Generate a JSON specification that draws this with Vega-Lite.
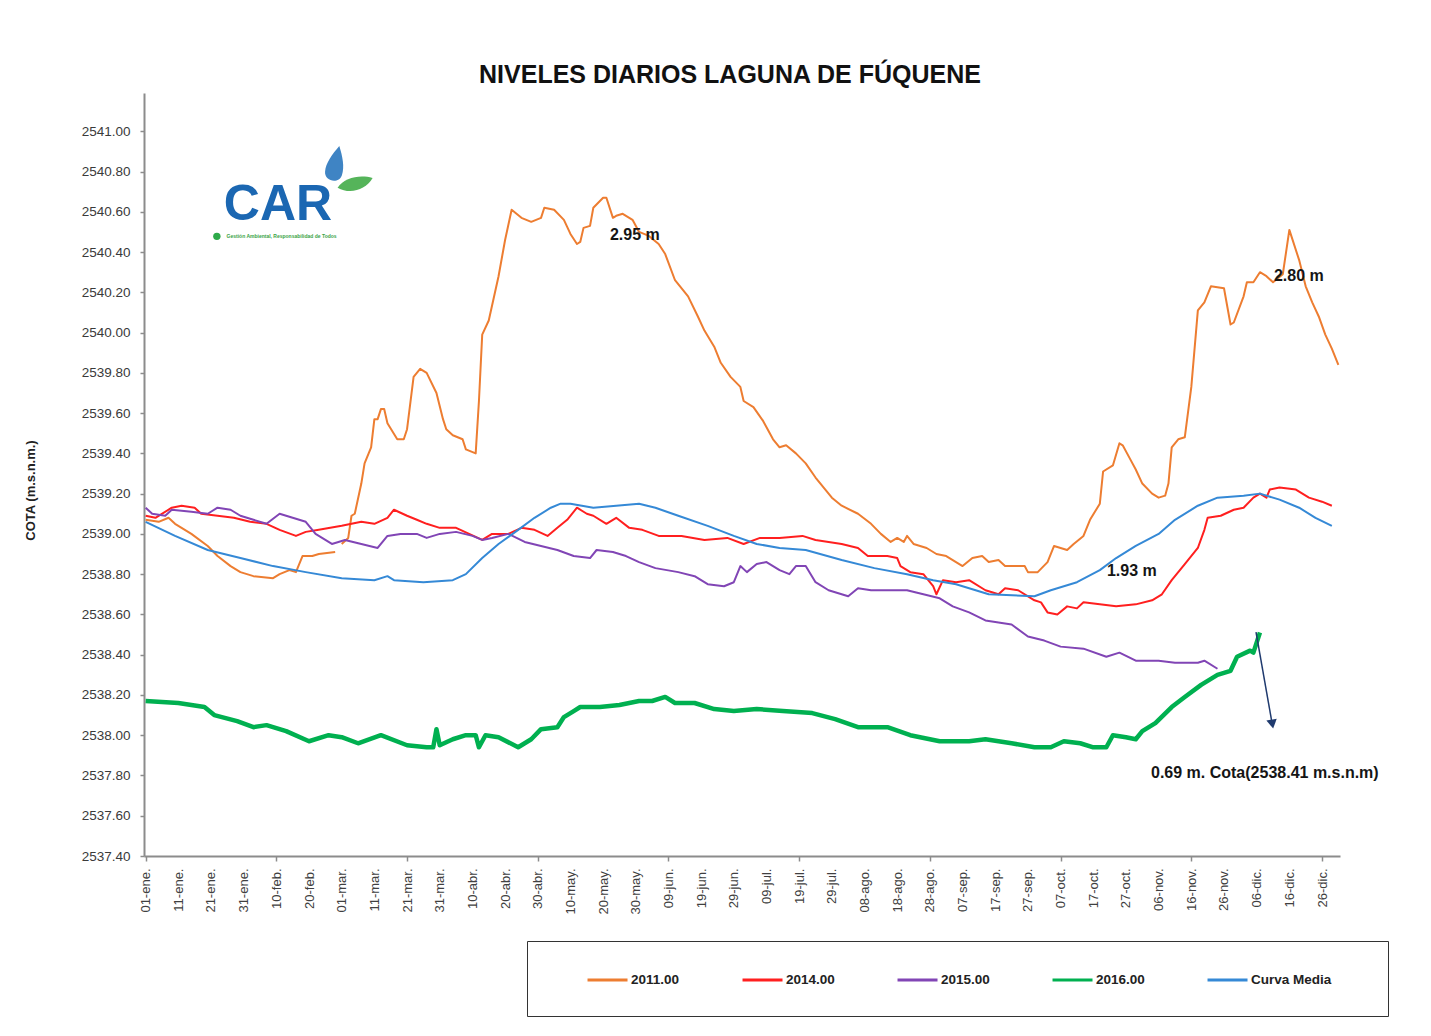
{
  "$schema": "https://vega.github.io/schema/vega-lite/v6.json",
  "width": 1196,
  "height": 763,
  "autosize": {"type": "none"},
  "padding": {"left": 144, "top": 93, "right": 91, "bottom": 180},
  "background": "#ffffff",
  "config": {"view": {"stroke": null}},
  "title": {"text": "NIVELES DIARIOS LAGUNA DE FÚQUENE", "font": "Liberation Sans", "fontSize": 25, "fontWeight": "bold", "color": "#111111", "anchor": "middle", "frame": "group", "dx": -12, "offset": 5},
  "datasets": {
    "niveles": [
      {"serie":"2011.00","tramo":"a","dia":1,"cota":2539.07},{"serie":"2011.00","tramo":"a","dia":5,"cota":2539.06},{"serie":"2011.00","tramo":"a","dia":8,"cota":2539.08},{"serie":"2011.00","tramo":"a","dia":10,"cota":2539.05},{"serie":"2011.00","tramo":"a","dia":15,"cota":2539.0},{"serie":"2011.00","tramo":"a","dia":20,"cota":2538.94},{"serie":"2011.00","tramo":"a","dia":23,"cota":2538.89},{"serie":"2011.00","tramo":"a","dia":27,"cota":2538.84},{"serie":"2011.00","tramo":"a","dia":30,"cota":2538.81},{"serie":"2011.00","tramo":"a","dia":34,"cota":2538.79},{"serie":"2011.00","tramo":"a","dia":40,"cota":2538.78},{"serie":"2011.00","tramo":"a","dia":42,"cota":2538.8},{"serie":"2011.00","tramo":"a","dia":45,"cota":2538.82},{"serie":"2011.00","tramo":"a","dia":47,"cota":2538.81},{"serie":"2011.00","tramo":"a","dia":49,"cota":2538.89},{"serie":"2011.00","tramo":"a","dia":52,"cota":2538.89},{"serie":"2011.00","tramo":"a","dia":54,"cota":2538.9},{"serie":"2011.00","tramo":"a","dia":59,"cota":2538.91},
      {"serie":"2011.00","tramo":"b","dia":61,"cota":2538.95},{"serie":"2011.00","tramo":"b","dia":63,"cota":2538.98},{"serie":"2011.00","tramo":"b","dia":64,"cota":2539.09},{"serie":"2011.00","tramo":"b","dia":65,"cota":2539.1},{"serie":"2011.00","tramo":"b","dia":67,"cota":2539.25},{"serie":"2011.00","tramo":"b","dia":68,"cota":2539.35},{"serie":"2011.00","tramo":"b","dia":70,"cota":2539.43},{"serie":"2011.00","tramo":"b","dia":71,"cota":2539.57},{"serie":"2011.00","tramo":"b","dia":72,"cota":2539.57},{"serie":"2011.00","tramo":"b","dia":73,"cota":2539.62},{"serie":"2011.00","tramo":"b","dia":74,"cota":2539.62},{"serie":"2011.00","tramo":"b","dia":75,"cota":2539.55},{"serie":"2011.00","tramo":"b","dia":78,"cota":2539.47},{"serie":"2011.00","tramo":"b","dia":80,"cota":2539.47},{"serie":"2011.00","tramo":"b","dia":81,"cota":2539.52},{"serie":"2011.00","tramo":"b","dia":83,"cota":2539.78},{"serie":"2011.00","tramo":"b","dia":85,"cota":2539.82},{"serie":"2011.00","tramo":"b","dia":87,"cota":2539.8},{"serie":"2011.00","tramo":"b","dia":90,"cota":2539.7},{"serie":"2011.00","tramo":"b","dia":92,"cota":2539.57},{"serie":"2011.00","tramo":"b","dia":93,"cota":2539.52},{"serie":"2011.00","tramo":"b","dia":95,"cota":2539.49},{"serie":"2011.00","tramo":"b","dia":98,"cota":2539.47},{"serie":"2011.00","tramo":"b","dia":99,"cota":2539.42},{"serie":"2011.00","tramo":"b","dia":102,"cota":2539.4},{"serie":"2011.00","tramo":"b","dia":103,"cota":2539.66},{"serie":"2011.00","tramo":"b","dia":104,"cota":2539.99},{"serie":"2011.00","tramo":"b","dia":106,"cota":2540.06},{"serie":"2011.00","tramo":"b","dia":109,"cota":2540.28},{"serie":"2011.00","tramo":"b","dia":111,"cota":2540.46},{"serie":"2011.00","tramo":"b","dia":113,"cota":2540.61},{"serie":"2011.00","tramo":"b","dia":116,"cota":2540.57},{"serie":"2011.00","tramo":"b","dia":119,"cota":2540.55},{"serie":"2011.00","tramo":"b","dia":122,"cota":2540.57},{"serie":"2011.00","tramo":"b","dia":123,"cota":2540.62},{"serie":"2011.00","tramo":"b","dia":126,"cota":2540.61},{"serie":"2011.00","tramo":"b","dia":129,"cota":2540.56},{"serie":"2011.00","tramo":"b","dia":131,"cota":2540.49},{"serie":"2011.00","tramo":"b","dia":133,"cota":2540.44},{"serie":"2011.00","tramo":"b","dia":134,"cota":2540.45},{"serie":"2011.00","tramo":"b","dia":135,"cota":2540.52},{"serie":"2011.00","tramo":"b","dia":137,"cota":2540.53},{"serie":"2011.00","tramo":"b","dia":138,"cota":2540.62},{"serie":"2011.00","tramo":"b","dia":141,"cota":2540.67},{"serie":"2011.00","tramo":"b","dia":142,"cota":2540.67},{"serie":"2011.00","tramo":"b","dia":144,"cota":2540.57},{"serie":"2011.00","tramo":"b","dia":145,"cota":2540.58},{"serie":"2011.00","tramo":"b","dia":147,"cota":2540.59},{"serie":"2011.00","tramo":"b","dia":150,"cota":2540.56},{"serie":"2011.00","tramo":"b","dia":152,"cota":2540.5},{"serie":"2011.00","tramo":"b","dia":155,"cota":2540.48},{"serie":"2011.00","tramo":"b","dia":158,"cota":2540.44},{"serie":"2011.00","tramo":"b","dia":160,"cota":2540.39},{"serie":"2011.00","tramo":"b","dia":163,"cota":2540.26},{"serie":"2011.00","tramo":"b","dia":167,"cota":2540.18},{"serie":"2011.00","tramo":"b","dia":170,"cota":2540.08},{"serie":"2011.00","tramo":"b","dia":172,"cota":2540.01},{"serie":"2011.00","tramo":"b","dia":175,"cota":2539.93},{"serie":"2011.00","tramo":"b","dia":177,"cota":2539.85},{"serie":"2011.00","tramo":"b","dia":180,"cota":2539.78},{"serie":"2011.00","tramo":"b","dia":183,"cota":2539.73},{"serie":"2011.00","tramo":"b","dia":184,"cota":2539.66},{"serie":"2011.00","tramo":"b","dia":187,"cota":2539.63},{"serie":"2011.00","tramo":"b","dia":190,"cota":2539.56},{"serie":"2011.00","tramo":"b","dia":193,"cota":2539.47},{"serie":"2011.00","tramo":"b","dia":195,"cota":2539.43},{"serie":"2011.00","tramo":"b","dia":197,"cota":2539.44},{"serie":"2011.00","tramo":"b","dia":200,"cota":2539.4},{"serie":"2011.00","tramo":"b","dia":203,"cota":2539.35},{"serie":"2011.00","tramo":"b","dia":206,"cota":2539.28},{"serie":"2011.00","tramo":"b","dia":209,"cota":2539.22},{"serie":"2011.00","tramo":"b","dia":211,"cota":2539.18},{"serie":"2011.00","tramo":"b","dia":214,"cota":2539.14},{"serie":"2011.00","tramo":"b","dia":219,"cota":2539.1},{"serie":"2011.00","tramo":"b","dia":223,"cota":2539.05},{"serie":"2011.00","tramo":"b","dia":226,"cota":2539.0},{"serie":"2011.00","tramo":"b","dia":229,"cota":2538.96},{"serie":"2011.00","tramo":"b","dia":231,"cota":2538.98},{"serie":"2011.00","tramo":"b","dia":233,"cota":2538.96},{"serie":"2011.00","tramo":"b","dia":234,"cota":2538.99},{"serie":"2011.00","tramo":"b","dia":236,"cota":2538.95},{"serie":"2011.00","tramo":"b","dia":240,"cota":2538.93},{"serie":"2011.00","tramo":"b","dia":243,"cota":2538.9},{"serie":"2011.00","tramo":"b","dia":246,"cota":2538.89},{"serie":"2011.00","tramo":"b","dia":251,"cota":2538.84},{"serie":"2011.00","tramo":"b","dia":254,"cota":2538.88},{"serie":"2011.00","tramo":"b","dia":257,"cota":2538.89},{"serie":"2011.00","tramo":"b","dia":259,"cota":2538.86},{"serie":"2011.00","tramo":"b","dia":262,"cota":2538.87},{"serie":"2011.00","tramo":"b","dia":264,"cota":2538.84},{"serie":"2011.00","tramo":"b","dia":270,"cota":2538.84},{"serie":"2011.00","tramo":"b","dia":271,"cota":2538.81},{"serie":"2011.00","tramo":"b","dia":274,"cota":2538.81},{"serie":"2011.00","tramo":"b","dia":277,"cota":2538.86},{"serie":"2011.00","tramo":"b","dia":279,"cota":2538.94},{"serie":"2011.00","tramo":"b","dia":283,"cota":2538.92},{"serie":"2011.00","tramo":"b","dia":285,"cota":2538.95},{"serie":"2011.00","tramo":"b","dia":288,"cota":2538.99},{"serie":"2011.00","tramo":"b","dia":290,"cota":2539.07},{"serie":"2011.00","tramo":"b","dia":293,"cota":2539.15},{"serie":"2011.00","tramo":"b","dia":294,"cota":2539.31},{"serie":"2011.00","tramo":"b","dia":297,"cota":2539.34},{"serie":"2011.00","tramo":"b","dia":299,"cota":2539.45},{"serie":"2011.00","tramo":"b","dia":300,"cota":2539.44},{"serie":"2011.00","tramo":"b","dia":302,"cota":2539.38},{"serie":"2011.00","tramo":"b","dia":304,"cota":2539.32},{"serie":"2011.00","tramo":"b","dia":306,"cota":2539.25},{"serie":"2011.00","tramo":"b","dia":309,"cota":2539.2},{"serie":"2011.00","tramo":"b","dia":311,"cota":2539.18},{"serie":"2011.00","tramo":"b","dia":313,"cota":2539.19},{"serie":"2011.00","tramo":"b","dia":314,"cota":2539.25},{"serie":"2011.00","tramo":"b","dia":315,"cota":2539.43},{"serie":"2011.00","tramo":"b","dia":317,"cota":2539.47},{"serie":"2011.00","tramo":"b","dia":319,"cota":2539.48},{"serie":"2011.00","tramo":"b","dia":321,"cota":2539.73},{"serie":"2011.00","tramo":"b","dia":323,"cota":2540.11},{"serie":"2011.00","tramo":"b","dia":325,"cota":2540.15},{"serie":"2011.00","tramo":"b","dia":327,"cota":2540.23},{"serie":"2011.00","tramo":"b","dia":331,"cota":2540.22},{"serie":"2011.00","tramo":"b","dia":333,"cota":2540.04},{"serie":"2011.00","tramo":"b","dia":334,"cota":2540.05},{"serie":"2011.00","tramo":"b","dia":337,"cota":2540.18},{"serie":"2011.00","tramo":"b","dia":338,"cota":2540.25},{"serie":"2011.00","tramo":"b","dia":340,"cota":2540.25},{"serie":"2011.00","tramo":"b","dia":342,"cota":2540.3},{"serie":"2011.00","tramo":"b","dia":344,"cota":2540.28},{"serie":"2011.00","tramo":"b","dia":346,"cota":2540.25},{"serie":"2011.00","tramo":"b","dia":349,"cota":2540.29},{"serie":"2011.00","tramo":"b","dia":351,"cota":2540.51},{"serie":"2011.00","tramo":"b","dia":354,"cota":2540.36},{"serie":"2011.00","tramo":"b","dia":356,"cota":2540.23},{"serie":"2011.00","tramo":"b","dia":358,"cota":2540.15},{"serie":"2011.00","tramo":"b","dia":360,"cota":2540.08},{"serie":"2011.00","tramo":"b","dia":362,"cota":2539.99},{"serie":"2011.00","tramo":"b","dia":364,"cota":2539.92},{"serie":"2011.00","tramo":"b","dia":366,"cota":2539.84},
      {"serie":"2014.00","dia":1,"cota":2539.09},{"serie":"2014.00","dia":4,"cota":2539.08},{"serie":"2014.00","dia":9,"cota":2539.13},{"serie":"2014.00","dia":12,"cota":2539.14},{"serie":"2014.00","dia":16,"cota":2539.13},{"serie":"2014.00","dia":18,"cota":2539.1},{"serie":"2014.00","dia":23,"cota":2539.09},{"serie":"2014.00","dia":28,"cota":2539.08},{"serie":"2014.00","dia":33,"cota":2539.06},{"serie":"2014.00","dia":38,"cota":2539.05},{"serie":"2014.00","dia":42,"cota":2539.02},{"serie":"2014.00","dia":47,"cota":2538.99},{"serie":"2014.00","dia":50,"cota":2539.01},{"serie":"2014.00","dia":54,"cota":2539.02},{"serie":"2014.00","dia":61,"cota":2539.04},{"serie":"2014.00","dia":67,"cota":2539.06},{"serie":"2014.00","dia":71,"cota":2539.05},{"serie":"2014.00","dia":75,"cota":2539.08},{"serie":"2014.00","dia":77,"cota":2539.12},{"serie":"2014.00","dia":81,"cota":2539.09},{"serie":"2014.00","dia":84,"cota":2539.07},{"serie":"2014.00","dia":87,"cota":2539.05},{"serie":"2014.00","dia":91,"cota":2539.03},{"serie":"2014.00","dia":96,"cota":2539.03},{"serie":"2014.00","dia":100,"cota":2539.0},{"serie":"2014.00","dia":104,"cota":2538.97},{"serie":"2014.00","dia":107,"cota":2539.0},{"serie":"2014.00","dia":112,"cota":2539.0},{"serie":"2014.00","dia":116,"cota":2539.03},{"serie":"2014.00","dia":120,"cota":2539.02},{"serie":"2014.00","dia":124,"cota":2538.99},{"serie":"2014.00","dia":127,"cota":2539.03},{"serie":"2014.00","dia":130,"cota":2539.07},{"serie":"2014.00","dia":133,"cota":2539.13},{"serie":"2014.00","dia":136,"cota":2539.1},{"serie":"2014.00","dia":138,"cota":2539.09},{"serie":"2014.00","dia":142,"cota":2539.05},{"serie":"2014.00","dia":145,"cota":2539.08},{"serie":"2014.00","dia":149,"cota":2539.03},{"serie":"2014.00","dia":153,"cota":2539.02},{"serie":"2014.00","dia":158,"cota":2538.99},{"serie":"2014.00","dia":165,"cota":2538.99},{"serie":"2014.00","dia":172,"cota":2538.97},{"serie":"2014.00","dia":179,"cota":2538.98},{"serie":"2014.00","dia":184,"cota":2538.95},{"serie":"2014.00","dia":189,"cota":2538.98},{"serie":"2014.00","dia":195,"cota":2538.98},{"serie":"2014.00","dia":202,"cota":2538.99},{"serie":"2014.00","dia":206,"cota":2538.97},{"serie":"2014.00","dia":214,"cota":2538.95},{"serie":"2014.00","dia":219,"cota":2538.93},{"serie":"2014.00","dia":222,"cota":2538.89},{"serie":"2014.00","dia":228,"cota":2538.89},{"serie":"2014.00","dia":231,"cota":2538.88},{"serie":"2014.00","dia":232,"cota":2538.84},{"serie":"2014.00","dia":235,"cota":2538.81},{"serie":"2014.00","dia":239,"cota":2538.8},{"serie":"2014.00","dia":242,"cota":2538.74},{"serie":"2014.00","dia":243,"cota":2538.7},{"serie":"2014.00","dia":245,"cota":2538.77},{"serie":"2014.00","dia":249,"cota":2538.76},{"serie":"2014.00","dia":253,"cota":2538.77},{"serie":"2014.00","dia":258,"cota":2538.72},{"serie":"2014.00","dia":262,"cota":2538.7},{"serie":"2014.00","dia":264,"cota":2538.73},{"serie":"2014.00","dia":268,"cota":2538.72},{"serie":"2014.00","dia":273,"cota":2538.67},{"serie":"2014.00","dia":275,"cota":2538.66},{"serie":"2014.00","dia":277,"cota":2538.61},{"serie":"2014.00","dia":280,"cota":2538.6},{"serie":"2014.00","dia":283,"cota":2538.64},{"serie":"2014.00","dia":286,"cota":2538.63},{"serie":"2014.00","dia":288,"cota":2538.66},{"serie":"2014.00","dia":293,"cota":2538.65},{"serie":"2014.00","dia":298,"cota":2538.64},{"serie":"2014.00","dia":304,"cota":2538.65},{"serie":"2014.00","dia":309,"cota":2538.67},{"serie":"2014.00","dia":312,"cota":2538.7},{"serie":"2014.00","dia":315,"cota":2538.77},{"serie":"2014.00","dia":319,"cota":2538.85},{"serie":"2014.00","dia":323,"cota":2538.93},{"serie":"2014.00","dia":325,"cota":2539.02},{"serie":"2014.00","dia":326,"cota":2539.08},{"serie":"2014.00","dia":330,"cota":2539.09},{"serie":"2014.00","dia":334,"cota":2539.12},{"serie":"2014.00","dia":337,"cota":2539.13},{"serie":"2014.00","dia":340,"cota":2539.18},{"serie":"2014.00","dia":342,"cota":2539.2},{"serie":"2014.00","dia":344,"cota":2539.18},{"serie":"2014.00","dia":345,"cota":2539.22},{"serie":"2014.00","dia":348,"cota":2539.23},{"serie":"2014.00","dia":353,"cota":2539.22},{"serie":"2014.00","dia":357,"cota":2539.18},{"serie":"2014.00","dia":361,"cota":2539.16},{"serie":"2014.00","dia":364,"cota":2539.14},
      {"serie":"2015.00","dia":1,"cota":2539.13},{"serie":"2015.00","dia":3,"cota":2539.1},{"serie":"2015.00","dia":7,"cota":2539.09},{"serie":"2015.00","dia":9,"cota":2539.12},{"serie":"2015.00","dia":15,"cota":2539.11},{"serie":"2015.00","dia":20,"cota":2539.1},{"serie":"2015.00","dia":23,"cota":2539.13},{"serie":"2015.00","dia":27,"cota":2539.12},{"serie":"2015.00","dia":30,"cota":2539.09},{"serie":"2015.00","dia":34,"cota":2539.07},{"serie":"2015.00","dia":38,"cota":2539.05},{"serie":"2015.00","dia":42,"cota":2539.1},{"serie":"2015.00","dia":46,"cota":2539.08},{"serie":"2015.00","dia":50,"cota":2539.06},{"serie":"2015.00","dia":53,"cota":2539.0},{"serie":"2015.00","dia":58,"cota":2538.95},{"serie":"2015.00","dia":62,"cota":2538.97},{"serie":"2015.00","dia":67,"cota":2538.95},{"serie":"2015.00","dia":72,"cota":2538.93},{"serie":"2015.00","dia":75,"cota":2538.99},{"serie":"2015.00","dia":79,"cota":2539.0},{"serie":"2015.00","dia":84,"cota":2539.0},{"serie":"2015.00","dia":87,"cota":2538.98},{"serie":"2015.00","dia":91,"cota":2539.0},{"serie":"2015.00","dia":96,"cota":2539.01},{"serie":"2015.00","dia":101,"cota":2538.99},{"serie":"2015.00","dia":104,"cota":2538.97},{"serie":"2015.00","dia":107,"cota":2538.98},{"serie":"2015.00","dia":112,"cota":2539.0},{"serie":"2015.00","dia":117,"cota":2538.96},{"serie":"2015.00","dia":122,"cota":2538.94},{"serie":"2015.00","dia":127,"cota":2538.92},{"serie":"2015.00","dia":132,"cota":2538.89},{"serie":"2015.00","dia":137,"cota":2538.88},{"serie":"2015.00","dia":139,"cota":2538.92},{"serie":"2015.00","dia":144,"cota":2538.91},{"serie":"2015.00","dia":148,"cota":2538.89},{"serie":"2015.00","dia":152,"cota":2538.86},{"serie":"2015.00","dia":157,"cota":2538.83},{"serie":"2015.00","dia":164,"cota":2538.81},{"serie":"2015.00","dia":169,"cota":2538.79},{"serie":"2015.00","dia":173,"cota":2538.75},{"serie":"2015.00","dia":178,"cota":2538.74},{"serie":"2015.00","dia":181,"cota":2538.76},{"serie":"2015.00","dia":183,"cota":2538.84},{"serie":"2015.00","dia":185,"cota":2538.81},{"serie":"2015.00","dia":188,"cota":2538.85},{"serie":"2015.00","dia":191,"cota":2538.86},{"serie":"2015.00","dia":195,"cota":2538.82},{"serie":"2015.00","dia":198,"cota":2538.8},{"serie":"2015.00","dia":200,"cota":2538.84},{"serie":"2015.00","dia":203,"cota":2538.84},{"serie":"2015.00","dia":206,"cota":2538.76},{"serie":"2015.00","dia":210,"cota":2538.72},{"serie":"2015.00","dia":216,"cota":2538.69},{"serie":"2015.00","dia":219,"cota":2538.73},{"serie":"2015.00","dia":223,"cota":2538.72},{"serie":"2015.00","dia":229,"cota":2538.72},{"serie":"2015.00","dia":234,"cota":2538.72},{"serie":"2015.00","dia":239,"cota":2538.7},{"serie":"2015.00","dia":244,"cota":2538.68},{"serie":"2015.00","dia":248,"cota":2538.64},{"serie":"2015.00","dia":253,"cota":2538.61},{"serie":"2015.00","dia":258,"cota":2538.57},{"serie":"2015.00","dia":266,"cota":2538.55},{"serie":"2015.00","dia":271,"cota":2538.49},{"serie":"2015.00","dia":276,"cota":2538.47},{"serie":"2015.00","dia":281,"cota":2538.44},{"serie":"2015.00","dia":288,"cota":2538.43},{"serie":"2015.00","dia":295,"cota":2538.39},{"serie":"2015.00","dia":299,"cota":2538.41},{"serie":"2015.00","dia":304,"cota":2538.37},{"serie":"2015.00","dia":311,"cota":2538.37},{"serie":"2015.00","dia":316,"cota":2538.36},{"serie":"2015.00","dia":323,"cota":2538.36},{"serie":"2015.00","dia":325,"cota":2538.37},{"serie":"2015.00","dia":329,"cota":2538.33},
      {"serie":"2016.00","dia":1,"cota":2538.17},{"serie":"2016.00","dia":11,"cota":2538.16},{"serie":"2016.00","dia":19,"cota":2538.14},{"serie":"2016.00","dia":22,"cota":2538.1},{"serie":"2016.00","dia":29,"cota":2538.07},{"serie":"2016.00","dia":34,"cota":2538.04},{"serie":"2016.00","dia":38,"cota":2538.05},{"serie":"2016.00","dia":44,"cota":2538.02},{"serie":"2016.00","dia":51,"cota":2537.97},{"serie":"2016.00","dia":57,"cota":2538.0},{"serie":"2016.00","dia":61,"cota":2537.99},{"serie":"2016.00","dia":66,"cota":2537.96},{"serie":"2016.00","dia":73,"cota":2538.0},{"serie":"2016.00","dia":81,"cota":2537.95},{"serie":"2016.00","dia":87,"cota":2537.94},{"serie":"2016.00","dia":89,"cota":2537.94},{"serie":"2016.00","dia":90,"cota":2538.03},{"serie":"2016.00","dia":91,"cota":2537.95},{"serie":"2016.00","dia":95,"cota":2537.98},{"serie":"2016.00","dia":99,"cota":2538.0},{"serie":"2016.00","dia":102,"cota":2538.0},{"serie":"2016.00","dia":103,"cota":2537.94},{"serie":"2016.00","dia":105,"cota":2538.0},{"serie":"2016.00","dia":109,"cota":2537.99},{"serie":"2016.00","dia":115,"cota":2537.94},{"serie":"2016.00","dia":119,"cota":2537.98},{"serie":"2016.00","dia":122,"cota":2538.03},{"serie":"2016.00","dia":127,"cota":2538.04},{"serie":"2016.00","dia":129,"cota":2538.09},{"serie":"2016.00","dia":132,"cota":2538.12},{"serie":"2016.00","dia":134,"cota":2538.14},{"serie":"2016.00","dia":140,"cota":2538.14},{"serie":"2016.00","dia":146,"cota":2538.15},{"serie":"2016.00","dia":152,"cota":2538.17},{"serie":"2016.00","dia":156,"cota":2538.17},{"serie":"2016.00","dia":160,"cota":2538.19},{"serie":"2016.00","dia":163,"cota":2538.16},{"serie":"2016.00","dia":169,"cota":2538.16},{"serie":"2016.00","dia":175,"cota":2538.13},{"serie":"2016.00","dia":181,"cota":2538.12},{"serie":"2016.00","dia":188,"cota":2538.13},{"serie":"2016.00","dia":196,"cota":2538.12},{"serie":"2016.00","dia":205,"cota":2538.11},{"serie":"2016.00","dia":212,"cota":2538.08},{"serie":"2016.00","dia":219,"cota":2538.04},{"serie":"2016.00","dia":228,"cota":2538.04},{"serie":"2016.00","dia":235,"cota":2538.0},{"serie":"2016.00","dia":244,"cota":2537.97},{"serie":"2016.00","dia":253,"cota":2537.97},{"serie":"2016.00","dia":258,"cota":2537.98},{"serie":"2016.00","dia":266,"cota":2537.96},{"serie":"2016.00","dia":273,"cota":2537.94},{"serie":"2016.00","dia":278,"cota":2537.94},{"serie":"2016.00","dia":282,"cota":2537.97},{"serie":"2016.00","dia":287,"cota":2537.96},{"serie":"2016.00","dia":291,"cota":2537.94},{"serie":"2016.00","dia":295,"cota":2537.94},{"serie":"2016.00","dia":297,"cota":2538.0},{"serie":"2016.00","dia":301,"cota":2537.99},{"serie":"2016.00","dia":304,"cota":2537.98},{"serie":"2016.00","dia":306,"cota":2538.02},{"serie":"2016.00","dia":310,"cota":2538.06},{"serie":"2016.00","dia":315,"cota":2538.14},{"serie":"2016.00","dia":319,"cota":2538.19},{"serie":"2016.00","dia":324,"cota":2538.25},{"serie":"2016.00","dia":329,"cota":2538.3},{"serie":"2016.00","dia":333,"cota":2538.32},{"serie":"2016.00","dia":335,"cota":2538.39},{"serie":"2016.00","dia":339,"cota":2538.42},{"serie":"2016.00","dia":340,"cota":2538.41},{"serie":"2016.00","dia":342,"cota":2538.51},
      {"serie":"Curva Media","dia":1,"cota":2539.06},{"serie":"Curva Media","dia":10,"cota":2538.99},{"serie":"Curva Media","dia":20,"cota":2538.92},{"serie":"Curva Media","dia":30,"cota":2538.88},{"serie":"Curva Media","dia":40,"cota":2538.84},{"serie":"Curva Media","dia":50,"cota":2538.81},{"serie":"Curva Media","dia":61,"cota":2538.78},{"serie":"Curva Media","dia":71,"cota":2538.77},{"serie":"Curva Media","dia":75,"cota":2538.79},{"serie":"Curva Media","dia":77,"cota":2538.77},{"serie":"Curva Media","dia":86,"cota":2538.76},{"serie":"Curva Media","dia":95,"cota":2538.77},{"serie":"Curva Media","dia":99,"cota":2538.8},{"serie":"Curva Media","dia":104,"cota":2538.88},{"serie":"Curva Media","dia":109,"cota":2538.95},{"serie":"Curva Media","dia":115,"cota":2539.02},{"serie":"Curva Media","dia":120,"cota":2539.08},{"serie":"Curva Media","dia":125,"cota":2539.13},{"serie":"Curva Media","dia":128,"cota":2539.15},{"serie":"Curva Media","dia":131,"cota":2539.15},{"serie":"Curva Media","dia":138,"cota":2539.13},{"serie":"Curva Media","dia":145,"cota":2539.14},{"serie":"Curva Media","dia":152,"cota":2539.15},{"serie":"Curva Media","dia":157,"cota":2539.13},{"serie":"Curva Media","dia":164,"cota":2539.09},{"serie":"Curva Media","dia":173,"cota":2539.04},{"serie":"Curva Media","dia":181,"cota":2538.99},{"serie":"Curva Media","dia":188,"cota":2538.95},{"serie":"Curva Media","dia":195,"cota":2538.93},{"serie":"Curva Media","dia":203,"cota":2538.92},{"serie":"Curva Media","dia":214,"cota":2538.87},{"serie":"Curva Media","dia":224,"cota":2538.83},{"serie":"Curva Media","dia":234,"cota":2538.8},{"serie":"Curva Media","dia":242,"cota":2538.77},{"serie":"Curva Media","dia":249,"cota":2538.75},{"serie":"Curva Media","dia":259,"cota":2538.7},{"serie":"Curva Media","dia":273,"cota":2538.69},{"serie":"Curva Media","dia":278,"cota":2538.72},{"serie":"Curva Media","dia":286,"cota":2538.76},{"serie":"Curva Media","dia":293,"cota":2538.82},{"serie":"Curva Media","dia":298,"cota":2538.88},{"serie":"Curva Media","dia":304,"cota":2538.94},{"serie":"Curva Media","dia":311,"cota":2539.0},{"serie":"Curva Media","dia":316,"cota":2539.07},{"serie":"Curva Media","dia":323,"cota":2539.14},{"serie":"Curva Media","dia":329,"cota":2539.18},{"serie":"Curva Media","dia":337,"cota":2539.19},{"serie":"Curva Media","dia":342,"cota":2539.2},{"serie":"Curva Media","dia":348,"cota":2539.17},{"serie":"Curva Media","dia":354,"cota":2539.13},{"serie":"Curva Media","dia":359,"cota":2539.08},{"serie":"Curva Media","dia":364,"cota":2539.04}
    ],
    "notas": [
      {"texto": "2.95 m", "dia": 150.7, "cota": 2540.485},
      {"texto": "2.80 m", "dia": 353.9, "cota": 2540.281},
      {"texto": "1.93 m", "dia": 302.8, "cota": 2538.815},
      {"texto": "0.69 m. Cota(2538.41 m.s.n.m)", "dia": 343.5, "cota": 2537.812}
    ],
    "flecha": [{"dia": 340.8, "cota": 2538.512, "dia_fin": 345.6, "cota_fin": 2538.07}],
    "punta": [{"dia": 345.8, "cota": 2538.055}],
    "logo_texto": [{"texto": "CAR", "dia": 41.5, "cota": 2540.56}],
    "logo_lema": [{"texto": "Gestión Ambiental, Responsabilidad de Todos", "dia": 42.6, "cota": 2540.478}],
    "logo_punto": [{"dia": 22.8, "cota": 2540.478}],
    "logo_gota": [{"dia": 58.9, "cota": 2540.822}],
    "logo_hoja": [{"dia": 65.1, "cota": 2540.733}]
  },
  "encoding": {
    "x": {
      "field": "dia", "type": "quantitative",
      "scale": {"domain": [0.5, 366.5], "nice": false, "zero": false},
      "axis": {
        "title": null, "grid": false,
        "values": [1,11,21,31,41,51,61,71,81,91,101,111,121,131,141,151,161,171,181,191,201,211,221,231,241,251,261,271,281,291,301,311,321,331,341,351,361],
        "labelExpr": "timeFormat(datetime(2016,0,datum.value),'%d') + '-' + ['ene','feb','mar','abr','may','jun','jul','ago','sep','oct','nov','dic'][month(datetime(2016,0,datum.value))] + '.'",
        "labelAngle": -90, "labelAlign": "right", "labelBaseline": "middle",
        "labelFont": "Liberation Sans", "labelFontSize": 13, "labelColor": "#404040",
        "labelPadding": 7, "labelOverlap": false, "labelFlush": false,
        "domainColor": "#8c8c8c", "domainWidth": 2,
        "tickColor": "#8c8c8c", "tickSize": 5, "tickWidth": 1.5,
        "tickOpacity": {"condition": {"test": "datum.value % 40 === 1", "value": 1}, "value": 0}
      }
    },
    "y": {
      "field": "cota", "type": "quantitative",
      "scale": {"domain": [2537.4, 2541.19], "nice": false, "zero": false},
      "axis": {
        "title": "COTA (m.s.n.m.)", "grid": false,
        "values": [2537.4,2537.6,2537.8,2538,2538.2,2538.4,2538.6,2538.8,2539,2539.2,2539.4,2539.6,2539.8,2540,2540.2,2540.4,2540.6,2540.8,2541],
        "format": ".2f",
        "labelFont": "Liberation Sans", "labelFontSize": 13.5, "labelColor": "#3a3a3a", "labelPadding": 10,
        "domainColor": "#8c8c8c", "domainWidth": 2,
        "tickColor": "#8c8c8c", "tickSize": 4, "tickWidth": 1.5,
        "titleFont": "Liberation Sans", "titleFontSize": 13, "titleFontWeight": "bold", "titleColor": "#222222",
        "titleAngle": -90, "titleAlign": "center", "titleBaseline": "middle", "titleX": -114, "titleY": 397
      }
    }
  },
  "layer": [
    {
      "data": {"name": "niveles"},
      "mark": {"type": "line", "strokeJoin": "round"},
      "encoding": {
        "color": {
          "field": "serie", "type": "nominal",
          "scale": {"domain": ["2011.00","2014.00","2015.00","2016.00","Curva Media"], "range": ["#ED7D31","#FF1F1F","#8145B5","#00B050","#3589D6"]},
          "legend": {
            "orient": "none", "legendX": 383, "legendY": 848, "direction": "horizontal", "columns": 5, "gridAlign": "all",
            "title": " ", "titleOrient": "right", "titlePadding": 27, "titleFontSize": 10,
            "symbolType": "M2.69,0L7.69,0", "symbolSize": 256, "symbolStrokeWidth": 3,
            "labelFont": "Liberation Sans", "labelFontSize": 13.5, "labelFontWeight": "bold", "labelColor": "#222222", "labelOffset": 55.5,
            "columnPadding": 0, "padding": 29.5, "strokeColor": "#333333"
          }
        },
        "strokeWidth": {
          "condition": {"test": "datum.serie === '2016.00'", "value": 4.5},
          "value": 2
        },
        "detail": {"field": "tramo"}
      }
    },
    {
      "data": {"name": "notas"},
      "mark": {"type": "text", "font": "Liberation Sans", "fontSize": 16, "fontWeight": "bold", "color": "#151515", "align": "center", "baseline": "middle"},
      "encoding": {"text": {"field": "texto"}}
    },
    {
      "data": {"name": "flecha"},
      "mark": {"type": "rule", "color": "#1F3A6E", "strokeWidth": 1.5},
      "encoding": {"x2": {"field": "dia_fin"}, "y2": {"field": "cota_fin"}}
    },
    {
      "data": {"name": "punta"},
      "mark": {"type": "point", "shape": "triangle-down", "filled": true, "color": "#1F3A6E", "opacity": 1, "size": 110, "angle": 350},
      "encoding": {}
    },
    {
      "data": {"name": "logo_texto"},
      "mark": {"type": "text", "font": "Liberation Sans", "fontSize": 50, "fontWeight": "bold", "color": "#1B67B2", "align": "center", "baseline": "alphabetic"},
      "encoding": {"text": {"field": "texto"}}
    },
    {
      "data": {"name": "logo_lema"},
      "mark": {"type": "text", "font": "Liberation Sans", "fontSize": 5, "fontWeight": "bold", "color": "#3AA346", "align": "center", "baseline": "middle"},
      "encoding": {"text": {"field": "texto"}}
    },
    {
      "data": {"name": "logo_punto"},
      "mark": {"type": "point", "shape": "circle", "filled": true, "color": "#2EAA4A", "opacity": 1, "size": 55},
      "encoding": {}
    },
    {
      "data": {"name": "logo_gota"},
      "mark": {"type": "point", "shape": "M0,-1 C0.25,-0.55 0.45,-0.1 0.4,0.3 C0.35,0.75 -0.35,0.75 -0.4,0.3 C-0.45,-0.1 -0.25,-0.55 0,-1 Z", "filled": true, "color": "#3F84C4", "opacity": 1, "size": 1850, "angle": 12},
      "encoding": {}
    },
    {
      "data": {"name": "logo_hoja"},
      "mark": {"type": "point", "shape": "M-1,0.15 C-0.6,-0.45 0.3,-0.6 1,-0.4 C0.6,0.3 -0.3,0.55 -1,0.15 Z", "filled": true, "color": "#55B45A", "opacity": 1, "size": 1225},
      "encoding": {}
    }
  ]
}
